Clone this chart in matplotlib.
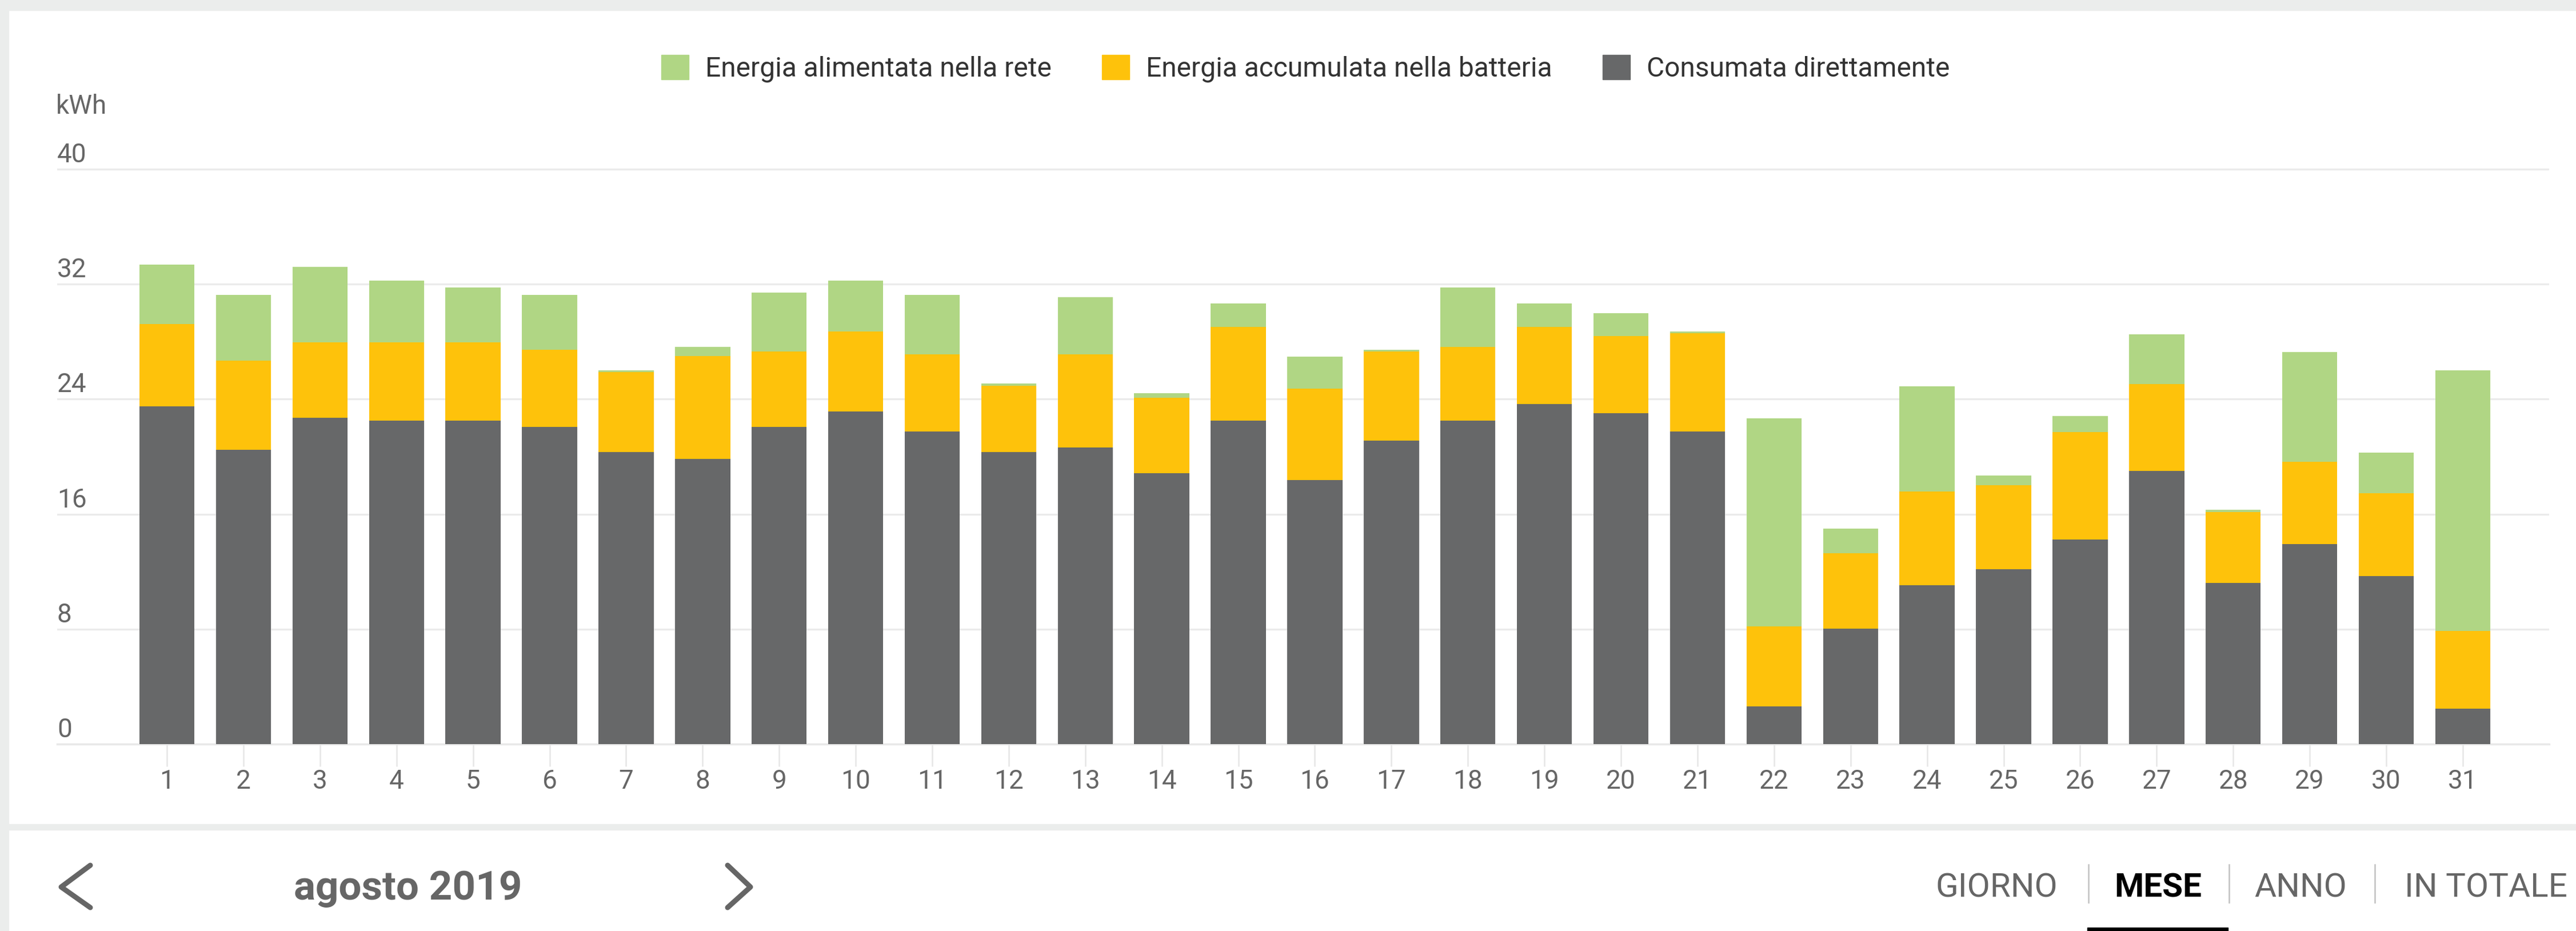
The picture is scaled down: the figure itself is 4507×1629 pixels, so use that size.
import matplotlib
matplotlib.use("Agg")
import matplotlib.pyplot as plt
import numpy as np
from matplotlib.lines import Line2D
from matplotlib.patches import Rectangle, Patch
from matplotlib.transforms import blended_transform_factory, offset_copy

plt.rcParams['font.family'] = ['Roboto', 'DejaVu Sans']

# data (kWh per day, agosto 2019)
days = list(range(1, 32))
consumata = [23.49, 20.46, 22.70, 22.51, 22.51, 22.06, 20.32, 19.84, 22.06, 23.15,
             21.74, 20.30, 20.62, 18.86, 22.51, 18.38, 21.10, 22.51, 23.66, 23.02,
             21.74, 2.62, 8.03, 11.05, 12.17, 14.24, 19.00, 11.22, 13.92, 11.70, 2.47]
batteria = [5.73, 6.21, 5.24, 5.43, 5.43, 5.38, 5.55, 7.14, 5.24, 5.57,
            5.38, 4.63, 6.50, 5.25, 6.53, 6.37, 6.20, 5.11, 5.38, 5.38,
            6.84, 5.56, 5.24, 6.52, 5.86, 7.48, 6.03, 4.93, 5.73, 5.74, 5.40]
rete = [4.13, 4.60, 5.25, 4.29, 3.81, 3.83, 0.13, 0.64, 4.13, 3.51,
        4.15, 0.14, 3.99, 0.32, 1.60, 2.21, 0.14, 4.13, 1.60, 1.59,
        0.14, 14.47, 1.73, 7.33, 0.65, 1.10, 3.47, 0.15, 7.62, 2.83, 18.13]
yticks = [0, 8, 16, 24, 32, 40]
labels = ["Energia alimentata nella rete", "Energia accumulata nella batteria", "Consumata direttamente"]
nav_tabs = ["GIORNO", "MESE", "ANNO", "IN TOTALE"]
month_label = "agosto 2019"

c_green = '#b0d684'
c_yellow = '#fec20b'
c_grey = '#676869'
c_bg = '#ebedec'
c_text = '#666666'

W, H = 4507, 1629
fig = plt.figure(figsize=(W / 100, H / 100), dpi=100)
fig.patch.set_facecolor('white')

def fx(px):
    return px / W

def fy(py):
    return 1 - py / H

# page frame (grey borders and separator)
fig.patches.append(Rectangle((0, fy(18)), 1, 18 / H, transform=fig.transFigure, color=c_bg, zorder=0))
fig.patches.append(Rectangle((0, 0), fx(15), 1, transform=fig.transFigure, color=c_bg, zorder=0))
fig.patches.append(Rectangle((0, fy(1452)), 1, 10 / H, transform=fig.transFigure, color=c_bg, zorder=0))

ax = fig.add_axes([fx(100), fy(1302), fx(4460) - fx(100), fy(283.4) - fy(1302)])
x = np.array(days)
bw = 0.72
ax.bar(x, consumata, bw, color=c_grey, zorder=3)
ax.bar(x, batteria, bw, bottom=consumata, color=c_yellow, zorder=3)
bottom2 = np.array(consumata) + np.array(batteria)
ax.bar(x, rete, bw, bottom=bottom2, color=c_green, zorder=3)

ax.set_xlim(-0.434, 32.128)
ax.set_ylim(0, 40.5)
for s in ['top', 'right', 'left']:
    ax.spines[s].set_visible(False)
ax.spines['bottom'].set_color('#e8e8e8')
ax.spines['bottom'].set_linewidth(2.5)
ax.set_yticks(yticks)
ax.set_yticklabels([])
ax.tick_params(axis='y', length=0)
ax.yaxis.grid(True, color='#ebebeb', linewidth=2.4, zorder=0)
ax.set_axisbelow(True)
ax.set_xticks(days)
ax.set_xticklabels([str(d) for d in days])
ax.tick_params(axis='x', length=28, width=1.8, color='#e6e6e6', pad=3,
               labelsize=33, labelcolor=c_text)

trans = offset_copy(blended_transform_factory(ax.transAxes, ax.transData), fig=fig, x=0, y=3, units='dots')
for v in yticks:
    ax.text(0, v, str(v), transform=trans, ha='left', va='bottom', fontsize=33, color=c_text)

fig.text(fx(98), fy(186), "kWh", ha='left', va='center', fontsize=33, color=c_text)

handles = [Patch(color=c_green), Patch(color=c_yellow), Patch(color=c_grey)]
fig.legend(handles, labels, loc='center', bbox_to_anchor=(fx(2284), fy(120)), ncol=3,
           frameon=False, fontsize=34.5, handlelength=1.0, handleheight=1.0,
           handletextpad=0.6, columnspacing=1.85, labelcolor='#333333')

# bottom navigation
cy = 1552
fig.add_artist(Line2D([fx(158), fx(107), fx(158)], [fy(1514), fy(cy), fy(1588)],
                      color=c_text, linewidth=6.5, solid_capstyle='round', solid_joinstyle='round'))
fig.add_artist(Line2D([fx(1273), fx(1313), fx(1273)], [fy(1514), fy(cy), fy(1588)],
                      color=c_text, linewidth=6.5, solid_capstyle='round', solid_joinstyle='round'))
fig.text(fx(714), fy(1574), month_label, ha='center', va='baseline', fontsize=51,
         fontweight='bold', color=c_text)

tab_x = [3493, 3776, 4025, 4349]
for name, tx in zip(nav_tabs, tab_x):
    active = name == "MESE"
    fig.text(fx(tx), fy(1570), name, ha='center', va='baseline', fontsize=42,
             fontweight='bold' if active else 'normal',
             color='black' if active else c_text)
for sx in [3654, 3900, 4155]:
    fig.add_artist(Line2D([fx(sx), fx(sx)], [fy(1513), fy(1579)], color='#c8c8c8', linewidth=2))
fig.patches.append(Rectangle((fx(3652), 0), fx(3898) - fx(3652), 6 / H,
                             transform=fig.transFigure, color='black', zorder=5))

fig.savefig("out.png", dpi=100)
